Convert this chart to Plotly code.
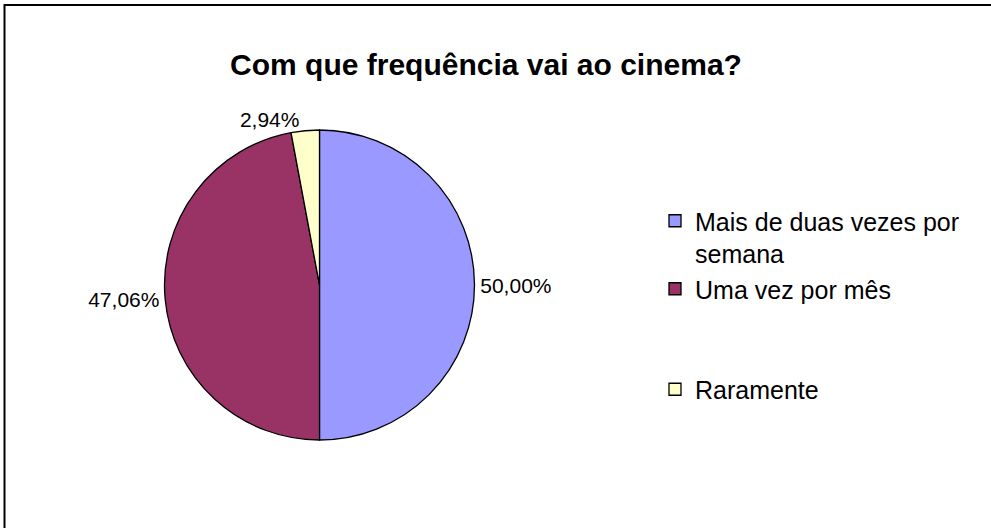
import plotly.graph_objects as go

categories = ["Mais de duas vezes por<br>semana", "Uma vez por mês<br> <br> ", "Raramente"]
values = [50.00, 47.06, 2.94]
colors = ["#9999FF", "#993366", "#FFFFCC"]
title_text = "Com que frequência vai ao cinema?"

W, H = 991, 528
cx, cy, r = 319.5, 285, 155
FONT = "Liberation Sans, Arial, sans-serif"

fig = go.Figure(go.Pie(
    labels=categories,
    values=values,
    sort=False,
    direction="clockwise",
    rotation=0,
    marker=dict(colors=colors, line=dict(color="black", width=1.3)),
    textposition="outside",
    texttemplate="%{percent:.2%}",
    textfont=dict(family=FONT, size=21, color="black"),
    domain=dict(x=[(cx - r) / W, (cx + r) / W], y=[1 - (cy + r) / H, 1 - (cy - r) / H]),
    showlegend=True,
    hoverinfo="label+percent",
))

fig.update_layout(
    width=W, height=H,
    autosize=False,
    margin=dict(l=0, r=0, t=0, b=0),
    paper_bgcolor="white",
    plot_bgcolor="white",
    separators=",.",
    title=dict(text="<b>" + title_text + "</b>", x=486 / W, xanchor="center",
               y=1 - 64 / H, yanchor="middle",
               font=dict(family=FONT, size=30, color="black")),
    legend=dict(x=655 / W, xanchor="left", y=1 - 198 / H, yanchor="top",
                valign="top",
                font=dict(family=FONT, size=25, color="black"),
                bgcolor="rgba(0,0,0,0)", traceorder="normal"),
    shapes=[dict(type="rect", xref="paper", yref="paper",
                 x0=4.5 / W, x1=1.05, y0=-0.05, y1=1 - 5 / H,
                 line=dict(color="black", width=2), fillcolor="rgba(0,0,0,0)", layer="below")],
)

fig.write_html("out.html", config={"displayModeBar": False},
               post_script="document.body.style.margin='0';document.body.style.padding='0';")
